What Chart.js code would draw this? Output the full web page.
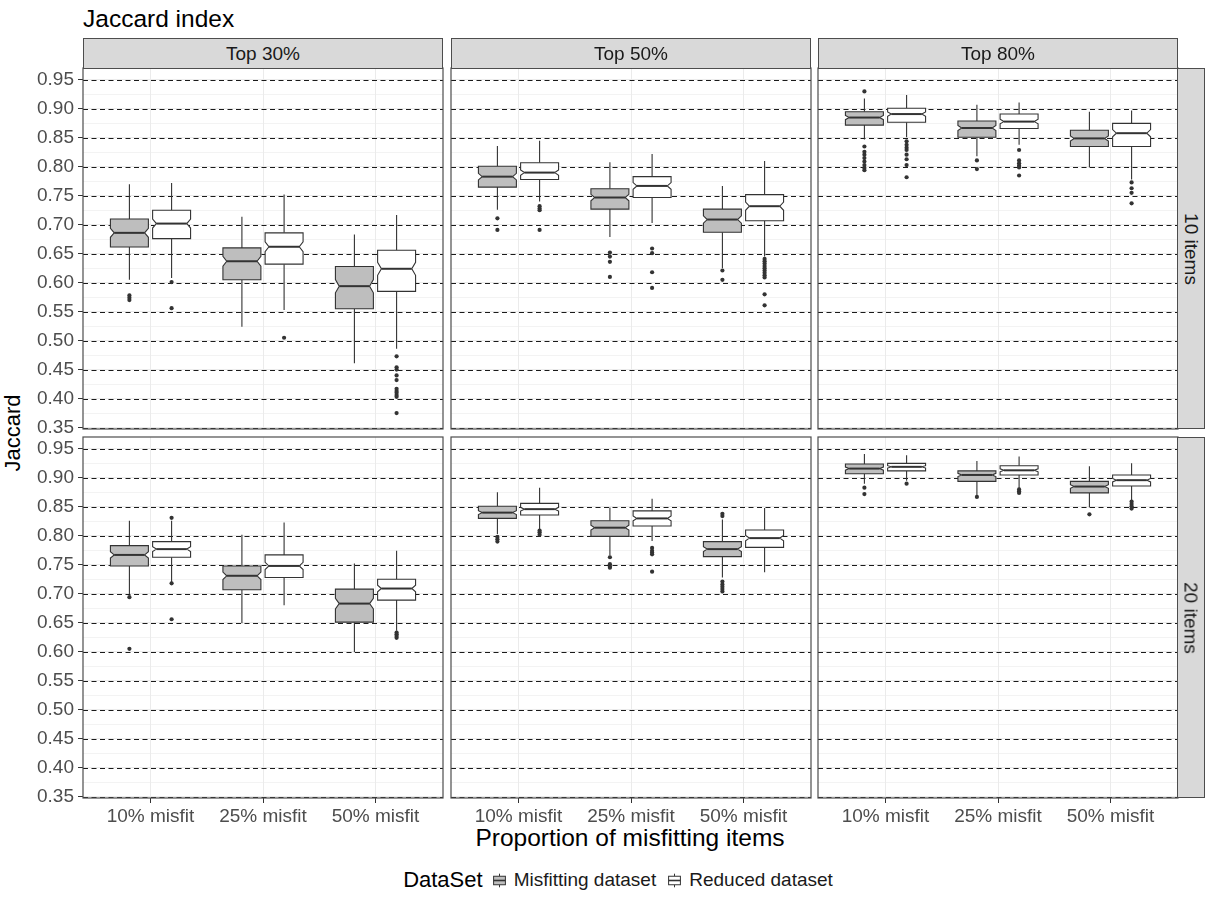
<!DOCTYPE html>
<html>
<head>
<meta charset="utf-8">
<script src="https://cdn.jsdelivr.net/npm/chart.js@4.4.1/dist/chart.umd.min.js"></script>
<style>
  html, body { margin: 0; padding: 0; background: #ffffff; }
  #wrap { position: relative; width: 1206px; height: 899px; overflow: hidden;
          font-family: "Liberation Sans", Arial, sans-serif; }
  #wrap canvas { position: absolute; left: 0; top: 0; }
  .txt { position: absolute; line-height: 1; white-space: nowrap; }
  .strip { position: absolute; background: #D9D9D9; border: 1px solid #4d4d4d; box-sizing: border-box; }
  #legend { position: absolute; top: 868px; left: 0; width: 1206px; height: 24px;
            display: flex; justify-content: center; align-items: center; }
  #legend .inner { display: flex; align-items: center; margin-left: 40px; }
  #legend .ttl { font-size: 22px; color: #000; margin-right: 8px; }
  #legend .lab { font-size: 19px; color: #1a1a1a; margin-left: 6px; margin-right: 10px; }
</style>
</head>
<body>
<div id="wrap">
  <div class="txt" id="title" style="left:83px;top:18.5px;font-size:24.5px;color:#000;transform:translateY(-50%);">Jaccard index</div>
  <div class="txt" id="ytitle" style="left:13px;top:433px;font-size:22px;color:#000;transform:translate(-50%,-50%) rotate(-90deg);">Jaccard</div>
  <div class="txt" id="xtitle" style="left:630px;top:838px;font-size:24.5px;color:#000;transform:translate(-50%,-50%);">Proportion of misfitting items</div>
  <div id="legend"><div class="inner">
    <span class="ttl">DataSet</span>
    <svg width="17" height="17" viewBox="0 0 17 17"><line x1="8.5" y1="1.7" x2="8.5" y2="4.25" stroke="#333" stroke-width="1"/><line x1="8.5" y1="12.75" x2="8.5" y2="15.3" stroke="#333" stroke-width="1"/><rect x="2.6" y="4.25" width="11.8" height="8.5" fill="#BEBEBE" stroke="#333" stroke-width="1"/><line x1="2.6" y1="8.5" x2="14.4" y2="8.5" stroke="#333" stroke-width="1.6"/></svg>
    <span class="lab">Misfitting dataset</span>
    <svg width="17" height="17" viewBox="0 0 17 17"><line x1="8.5" y1="1.7" x2="8.5" y2="4.25" stroke="#333" stroke-width="1"/><line x1="8.5" y1="12.75" x2="8.5" y2="15.3" stroke="#333" stroke-width="1"/><rect x="2.6" y="4.25" width="11.8" height="8.5" fill="#FFFFFF" stroke="#333" stroke-width="1"/><line x1="2.6" y1="8.5" x2="14.4" y2="8.5" stroke="#333" stroke-width="1.6"/></svg>
    <span class="lab">Reduced dataset</span>
  </div></div>
</div>
<script>
// ---------------- data ----------------
const CATEGORIES   = ['10% misfit', '25% misfit', '50% misfit'];
const TOP_LEVELS   = ['Top 30%', 'Top 50%', 'Top 80%'];
const ITEM_LEVELS  = ['10 items', '20 items'];
const GROUPS       = ['Misfitting dataset', 'Reduced dataset'];
const Y_TICKS      = [0.35, 0.40, 0.45, 0.50, 0.55, 0.60, 0.65, 0.70, 0.75, 0.80, 0.85, 0.90, 0.95];
const Y_MIN = 0.3475, Y_MAX = 0.9705;
const N_REPLICATIONS = 100;   // sample size per box (used for notch)

// box stats per category: [lower whisker, Q1, median, Q3, upper whisker]
const misfit_i10_t30  = [[0.605, 0.6615, 0.686, 0.710, 0.770], [0.524, 0.605, 0.637, 0.660, 0.714], [0.461, 0.555, 0.594, 0.628, 0.683]];
const reduced_i10_t30 = [[0.608, 0.676, 0.702, 0.725, 0.772], [0.553, 0.632, 0.662, 0.686, 0.752], [0.486, 0.585, 0.624, 0.656, 0.717]];
const misfit_i10_t50  = [[0.726, 0.765, 0.783, 0.801, 0.836], [0.679, 0.727, 0.747, 0.762, 0.808], [0.625, 0.687, 0.709, 0.727, 0.767]];
const reduced_i10_t50 = [[0.740, 0.778, 0.790, 0.807, 0.845], [0.703, 0.747, 0.767, 0.783, 0.822], [0.645, 0.707, 0.732, 0.752, 0.810]];
const misfit_i10_t80  = [[0.847, 0.872, 0.885, 0.895, 0.918], [0.818, 0.851, 0.867, 0.879, 0.907], [0.799, 0.835, 0.849, 0.863, 0.895]];
const reduced_i10_t80 = [[0.851, 0.877, 0.891, 0.901, 0.924], [0.838, 0.866, 0.878, 0.891, 0.911], [0.778, 0.835, 0.858, 0.875, 0.897]];
const misfit_i20_t30  = [[0.699, 0.748, 0.767, 0.783, 0.826], [0.649, 0.707, 0.731, 0.748, 0.802], [0.599, 0.651, 0.683, 0.708, 0.752]];
const reduced_i20_t30 = [[0.720, 0.763, 0.777, 0.790, 0.826], [0.680, 0.728, 0.748, 0.767, 0.823], [0.636, 0.689, 0.709, 0.725, 0.774]];
const misfit_i20_t50  = [[0.803, 0.830, 0.840, 0.851, 0.875], [0.766, 0.799, 0.814, 0.826, 0.849], [0.728, 0.764, 0.777, 0.790, 0.828]];
const reduced_i20_t50 = [[0.810, 0.836, 0.846, 0.856, 0.883], [0.791, 0.817, 0.830, 0.843, 0.864], [0.737, 0.780, 0.796, 0.810, 0.848]];
const misfit_i20_t80  = [[0.890, 0.907, 0.916, 0.924, 0.941], [0.869, 0.894, 0.905, 0.912, 0.929], [0.849, 0.874, 0.885, 0.894, 0.920]];
const reduced_i20_t80 = [[0.895, 0.912, 0.919, 0.925, 0.939], [0.882, 0.905, 0.913, 0.921, 0.937], [0.861, 0.886, 0.896, 0.905, 0.925]];

// outliers per category
const out_misfit_i10_t30  = [[0.578, 0.574, 0.570], [], []];
const out_reduced_i10_t30 = [[0.601, 0.556], [0.505], [0.473, 0.454, 0.450, 0.440, 0.432, 0.417, 0.413, 0.410, 0.406, 0.403, 0.375]];
const out_misfit_i10_t50  = [[0.711, 0.691], [0.652, 0.645, 0.636, 0.610], [0.621, 0.605]];
const out_reduced_i10_t50 = [[0.732, 0.728, 0.725, 0.691], [0.659, 0.651, 0.618, 0.591], [0.641, 0.637, 0.633, 0.629, 0.625, 0.621, 0.617, 0.613, 0.609, 0.580, 0.561]];
const out_misfit_i10_t80  = [[0.930, 0.835, 0.826, 0.821, 0.815, 0.809, 0.803, 0.798, 0.794], [0.811, 0.796], []];
const out_reduced_i10_t80 = [[0.844, 0.838, 0.833, 0.829, 0.821, 0.813, 0.803, 0.782], [0.829, 0.811, 0.806, 0.802, 0.799, 0.785], [0.773, 0.763, 0.755, 0.737]];
const out_misfit_i20_t30  = [[0.694, 0.605], [], []];
const out_reduced_i20_t30 = [[0.831, 0.718, 0.656], [], [0.633, 0.630, 0.627, 0.624]];
const out_misfit_i20_t50  = [[0.798, 0.794, 0.790], [0.763, 0.751, 0.747, 0.745], [0.838, 0.834, 0.721, 0.716, 0.712, 0.708, 0.704]];
const out_reduced_i20_t50 = [[0.809, 0.806, 0.802], [0.779, 0.774, 0.771, 0.768, 0.738], []];
const out_misfit_i20_t80  = [[0.883, 0.872], [0.867], [0.837]];
const out_reduced_i20_t80 = [[0.890], [0.880, 0.877, 0.874], [0.859, 0.855, 0.851, 0.847]];

// ---------------- layout / style ----------------
const FONT = '"Liberation Sans", Arial, sans-serif';
const PAGE_W = 1206, PAGE_H = 899;
const PANEL_LEFT = [83, 451, 818], PANEL_W = 360;
const PANEL_TOP = [68, 437], PANEL_H = 361;
const X_AXIS_H = 30, Y_AXIS_W = 83;
const GROUP_OFFSET = [-0.1875, 0.1875];
const BOX_WIDTH = 0.3375;
const NOTCH_WIDTH = 0.8;
const FILLS = ['#BEBEBE', '#FFFFFF'];
const INK = '#333333';
const TICK_FONT = 19;

const PANELS = [
  { row: 0, col: 0, stats: [misfit_i10_t30, reduced_i10_t30], outs: [out_misfit_i10_t30, out_reduced_i10_t30] },
  { row: 0, col: 1, stats: [misfit_i10_t50, reduced_i10_t50], outs: [out_misfit_i10_t50, out_reduced_i10_t50] },
  { row: 0, col: 2, stats: [misfit_i10_t80, reduced_i10_t80], outs: [out_misfit_i10_t80, out_reduced_i10_t80] },
  { row: 1, col: 0, stats: [misfit_i20_t30, reduced_i20_t30], outs: [out_misfit_i20_t30, out_reduced_i20_t30] },
  { row: 1, col: 1, stats: [misfit_i20_t50, reduced_i20_t50], outs: [out_misfit_i20_t50, out_reduced_i20_t50] },
  { row: 1, col: 2, stats: [misfit_i20_t80, reduced_i20_t80], outs: [out_misfit_i20_t80, out_reduced_i20_t80] }
];

const isMajor = v => Y_TICKS.some(t => Math.abs(t - v) < 1e-6);
const Y_GRID = Y_TICKS.concat(Y_TICKS.slice(0, -1).map(t => +(t + 0.025).toFixed(3))).sort((a, b) => a - b);

const boxPlugin = {
  id: 'notchedBoxes',
  beforeDatasetsDraw(chart) {
    const { ctx, chartArea: a, scales: { x, y } } = chart;
    const p = chart.options.plugins.notchedBoxes.panel;
    ctx.save();
    ctx.beginPath();
    ctx.rect(a.left, a.top, a.right - a.left, a.bottom - a.top);
    ctx.clip();
    ctx.strokeStyle = '#1a1a1a';
    ctx.lineWidth = 1;
    ctx.setLineDash([5, 3.5]);
    Y_TICKS.forEach(v => {
      const py = Math.round(y.getPixelForValue(v)) + 0.5;
      ctx.beginPath(); ctx.moveTo(a.left, py); ctx.lineTo(a.right, py); ctx.stroke();
    });
    ctx.setLineDash([]);
    p.stats.forEach((series, g) => {
      series.forEach((s, i) => {
        const [lo, q1, med, q3, hi] = s;
        const cx = x.getPixelForValue(i + 1 + GROUP_OFFSET[g]);
        const hw = (x.getPixelForValue(BOX_WIDTH) - x.getPixelForValue(0)) / 2;
        const xl = cx - hw, xr = cx + hw;
        const ind = hw * (1 - NOTCH_WIDTH);
        const nh = 1.58 * (q3 - q1) / Math.sqrt(N_REPLICATIONS);
        const pq1 = y.getPixelForValue(q1), pq3 = y.getPixelForValue(q3), pm = y.getPixelForValue(med);
        const pnl = y.getPixelForValue(Math.max(q1, med - nh)), pnu = y.getPixelForValue(Math.min(q3, med + nh));
        ctx.strokeStyle = INK; ctx.lineWidth = 1.1;
        ctx.beginPath();
        ctx.moveTo(cx, y.getPixelForValue(hi)); ctx.lineTo(cx, pq3);
        ctx.moveTo(cx, pq1); ctx.lineTo(cx, y.getPixelForValue(lo));
        ctx.stroke();
        ctx.beginPath();
        ctx.moveTo(xl, pq3); ctx.lineTo(xl, pnu); ctx.lineTo(xl + ind, pm); ctx.lineTo(xl, pnl); ctx.lineTo(xl, pq1);
        ctx.lineTo(xr, pq1); ctx.lineTo(xr, pnl); ctx.lineTo(xr - ind, pm); ctx.lineTo(xr, pnu); ctx.lineTo(xr, pq3);
        ctx.closePath();
        ctx.fillStyle = FILLS[g];
        ctx.fill(); ctx.stroke();
        ctx.lineWidth = 2;
        ctx.beginPath(); ctx.moveTo(xl + ind, pm); ctx.lineTo(xr - ind, pm); ctx.stroke();
      });
    });
    ctx.restore();
  },
  afterDraw(chart) {
    const { ctx, chartArea: a } = chart;
    ctx.save();
    ctx.strokeStyle = '#4d4d4d'; ctx.lineWidth = 1.2;
    ctx.strokeRect(a.left, a.top, a.right - a.left, a.bottom - a.top);
    ctx.restore();
  }
};

const wrap = document.getElementById('wrap');

PANELS.forEach(p => {
  const L = PANEL_LEFT[p.col], T = PANEL_TOP[p.row];
  const showX = p.row === 1, showY = p.col === 0;
  const cv = document.createElement('canvas');
  cv.width = PAGE_W; cv.height = PAGE_H;
  wrap.appendChild(cv);
  const datasets = p.outs.map((outs, g) => ({
    label: GROUPS[g] + ' outliers',
    data: outs.flatMap((vals, i) => vals.map(v => ({ x: i + 1 + GROUP_OFFSET[g], y: v }))),
    pointRadius: 2.1, pointHoverRadius: 2.1, backgroundColor: INK, borderWidth: 0
  }));
  new Chart(cv, {
    type: 'scatter',
    data: { datasets },
    options: {
      responsive: false, animation: false, events: [],
      layout: { padding: {
        left: showY ? L - Y_AXIS_W : L,
        top: T,
        right: PAGE_W - (L + PANEL_W),
        bottom: PAGE_H - (T + PANEL_H) - (showX ? X_AXIS_H : 0)
      } },
      plugins: { legend: { display: false }, tooltip: { enabled: false }, notchedBoxes: { panel: p } },
      scales: {
        x: {
          type: 'linear', min: 0.4, max: 3.6,
          afterBuildTicks: s => { s.ticks = CATEGORIES.map((_, i) => ({ value: i + 1 })); },
          afterFit: s => { s.height = showX ? X_AXIS_H : 0; },
          ticks: { display: showX, autoSkip: false, maxRotation: 0, minRotation: 0, padding: 2,
                   color: '#4D4D4D', font: { size: TICK_FONT, family: FONT },
                   callback: v => CATEGORIES[Math.round(v) - 1] },
          grid: { color: '#EBEBEB', lineWidth: 1, drawTicks: showX, tickLength: 5, tickColor: INK },
          border: { display: false }
        },
        y: {
          type: 'linear', min: Y_MIN, max: Y_MAX,
          afterBuildTicks: s => { s.ticks = Y_GRID.map(v => ({ value: v })); },
          afterFit: s => { s.width = showY ? Y_AXIS_W : 0; },
          ticks: { display: showY, autoSkip: false, padding: 4, color: '#4D4D4D',
                   font: { size: TICK_FONT, family: FONT },
                   callback: v => isMajor(v) ? v.toFixed(2) : '' },
          grid: { color: '#EBEBEB', lineWidth: c => (c.tick && isMajor(c.tick.value)) ? 1 : 0.6,
                  drawTicks: showY, tickLength: 5,
                  tickColor: c => (c.tick && isMajor(c.tick.value)) ? INK : 'rgba(0,0,0,0)' },
          border: { display: false }
        }
      }
    },
    plugins: [boxPlugin]
  });
});

TOP_LEVELS.forEach((lab, c) => {
  const d = document.createElement('div');
  d.className = 'strip';
  d.style.cssText = `left:${PANEL_LEFT[c]}px;top:38px;width:${PANEL_W}px;height:31px;`;
  wrap.appendChild(d);
  const t = document.createElement('div');
  t.className = 'txt';
  t.textContent = lab;
  t.style.cssText = `left:${PANEL_LEFT[c] + PANEL_W / 2}px;top:53px;font-size:19px;color:#1A1A1A;transform:translate(-50%,-50%);`;
  wrap.appendChild(t);
});
ITEM_LEVELS.forEach((lab, r) => {
  const d = document.createElement('div');
  d.className = 'strip';
  d.style.cssText = `left:1177px;top:${PANEL_TOP[r]}px;width:28px;height:${PANEL_H}px;`;
  wrap.appendChild(d);
  const t = document.createElement('div');
  t.className = 'txt';
  t.textContent = lab;
  t.style.cssText = `left:1191px;top:${PANEL_TOP[r] + PANEL_H / 2}px;font-size:19px;color:#1A1A1A;transform:translate(-50%,-50%) rotate(90deg);`;
  wrap.appendChild(t);
});
</script>
</body>
</html>
